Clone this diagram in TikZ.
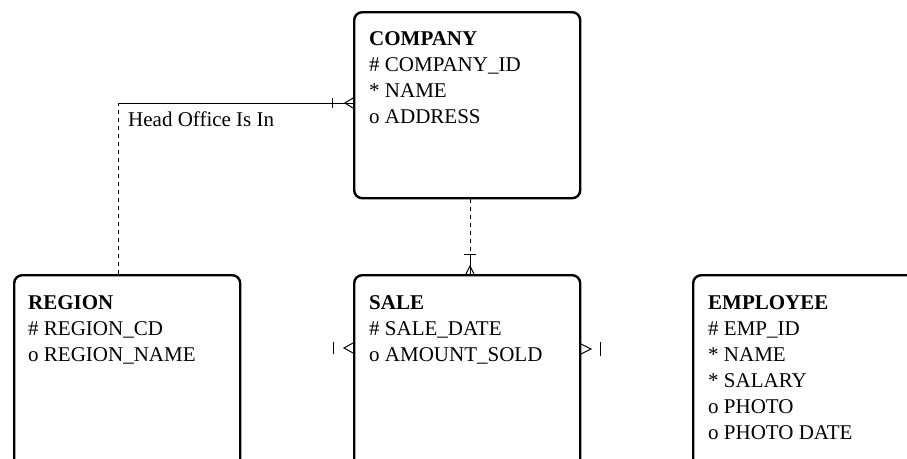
\documentclass[tikz,border=0pt]{standalone}
\usepackage{fontspec}
\setmainfont{Liberation Serif}
\usetikzlibrary{positioning}

\begin{document}
\begin{tikzpicture}[x=1pt, y=-1pt,
  entity/.style={draw, line width=2.4pt, rounded corners=8pt, anchor=north west,
    inner sep=0pt, minimum width=#1, minimum height=240pt},
  attrs/.style={anchor=north west, align=left, inner sep=0pt,
    font=\fontsize{21}{26}\selectfont},
  rel/.style={line width=1pt},
  opt/.style={rel, dash pattern=on 4pt off 4pt}]

  \useasboundingbox (0,0) rectangle (907,458);
  \clip (0,0) rectangle (907,458);

  % COMPANY box
  \node[entity=226pt, minimum height=186pt] (company) at (353,11) {};
  \node[attrs, below right=20pt and 16pt of company.north west, anchor=north west]
    (companytxt) {\textbf{COMPANY}\\ \# COMPANY\_ID\\ * NAME\\ o ADDRESS};

  % REGION box
  \node[entity=226pt] (region) at (13,274) {};
  \node[attrs, below right=21pt and 15pt of region.north west, anchor=north west]
    (regiontxt) {\textbf{REGION}\\ \# REGION\_CD\\ o REGION\_NAME};

  % SALE box
  \node[entity=226pt] (sale) at (353,274) {};
  \node[attrs, below right=21pt and 16pt of sale.north west, anchor=north west]
    (saletxt) {\textbf{SALE}\\ \# SALE\_DATE\\ o AMOUNT\_SOLD};

  % EMPLOYEE box
  \node[entity=260pt] (employee) at (692,274) {};
  \node[attrs, below right=21pt and 16pt of employee.north west, anchor=north west]
    (employeetxt) {\textbf{EMPLOYEE}\\ \# EMP\_ID\\ * NAME\\ * SALARY\\ o PHOTO\\ o PHOTO DATE};

  % Head Office Is In
  \coordinate (hoi) at (118,103);
  \draw[opt] (hoi |- region.north) -- (hoi);
  \draw[rel] (hoi) -- (hoi -| company.west);
  \node[attrs, anchor=north west] (hoilabel) at (128,112) {Head Office Is In};
  \draw[rel] (332,98) -- (332,108);
  \draw[rel] (353,98) -- (345,103) -- (353,108);

  % COMPANY to SALE
  \coordinate (cs) at (470,255);
  \draw[opt] (cs |- company.south) -- (cs);
  \draw[rel] (cs) -- (cs |- sale.north);
  \draw[rel] (464,254) -- (476,254);
  \draw[rel] (466,274) -- (470,266) -- (474,274);

  % loose ends on SALE
  \coordinate (sl) at (333,348);
  \draw[rel] (sl) ++(0,-6) -- ++(0,12);
  \draw[rel] (353,343) -- (344,348) -- (353,353);
  \coordinate (sr) at (600,349);
  \draw[rel] (sr) ++(0,-7) -- ++(0,14);
  \draw[rel] (579,343) -- (591,349) -- (579,355);
\end{tikzpicture}
\end{document}
